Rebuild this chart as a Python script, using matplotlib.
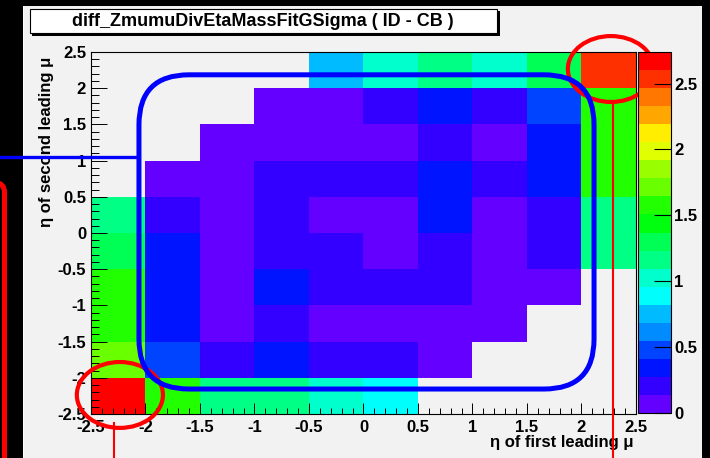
import numpy as np
import colorsys
import matplotlib
matplotlib.use('Agg')
import matplotlib.pyplot as plt
from matplotlib.colors import ListedColormap, BoundaryNorm
from matplotlib.patches import FancyBboxPatch, Ellipse, Rectangle
from matplotlib.transforms import IdentityTransform
from matplotlib.ticker import MultipleLocator, FuncFormatter

plt.rcParams['font.family'] = ['Liberation Sans', 'DejaVu Sans']
plt.rcParams['font.weight'] = 'bold'

# ---------------- data ----------------
title = "diff_ZmumuDivEtaMassFitGSigma ( ID - CB )"
x_label = "\u03b7 of first leading \u03bc"
y_label = "\u03b7 of second leading \u03bc"

# bin edges in eta (same for both axes)
eta_edges = [-2.5, -2.0, -1.5, -1.0, -0.5, 0.0, 0.5, 1.0, 1.5, 2.0, 2.5]
nan = np.nan
# rows: eta of second leading mu from -2.5 (first row) upward; columns: eta of first leading mu
row_m25 = [2.735, 1.58, 1.17, 1.16, 1.02, 0.90, nan, nan, nan, nan]
row_m20 = [1.72, 0.47, 0.21, 0.34, 0.20, 0.22, 0.08, nan, nan, nan]
row_m15 = [1.60, 0.35, 0.07, 0.22, 0.08, 0.09, 0.07, 0.08, nan, nan]
row_m10 = [1.58, 0.36, 0.06, 0.33, 0.21, 0.22, 0.20, 0.09, 0.08, nan]
row_m05 = [1.31, 0.35, 0.08, 0.22, 0.21, 0.07, 0.21, 0.08, 0.22, 1.17]
row_p00 = [1.18, 0.21, 0.07, 0.22, 0.08, 0.07, 0.35, 0.08, 0.21, 1.16]
row_p05 = [nan, 0.08, 0.07, 0.21, 0.22, 0.21, 0.34, 0.22, 0.35, 1.58]
row_p10 = [nan, nan, 0.07, 0.08, 0.07, 0.08, 0.22, 0.10, 0.34, 1.57]
row_p15 = [nan, nan, nan, 0.07, 0.08, 0.21, 0.34, 0.22, 0.47, 1.59]
row_p20 = [nan, nan, nan, nan, 0.76, 1.03, 1.17, 1.04, 1.30, 2.52]
sigma_rows = [row_m25, row_m20, row_m15, row_m10, row_m05,
              row_p00, row_p05, row_p10, row_p15, row_p20]

z_min, z_max = 0.0, 2.74
n_contours = 20
cbar_ticks = [0, 0.5, 1, 1.5, 2, 2.5]

# slide annotations (data coordinates of the histogram)
box_x = [-2.06, 2.115]
box_y = [-2.155, 2.185]
hline_y = 1.05
circle_centers = [(2.27, 2.265), (-2.235, -2.237)]
circle_size = (0.79, 0.91)
vline_x = [2.29, -2.29]
vline_top = [1.81, -2.62]

# ---------------- ROOT "pretty" palette ----------------
pal = []
for i in range(n_contours):
    k = int((i + 0.99) * 50 / n_contours)
    hue = 280.0 - (k + 1) * (280.0 / 50)
    pal.append(colorsys.hls_to_rgb((hue % 360) / 360.0, 0.5, 1.0))
cmap = ListedColormap(pal)
levels = np.linspace(z_min, z_max, n_contours + 1)
norm = BoundaryNorm(levels, n_contours)

W, H = 710, 458
fig = plt.figure(figsize=(W / 100, H / 100), dpi=100, facecolor='black')
PADC = '#f2f2f2'

# canvas pad
fig.add_artist(Rectangle((24 / W, 0), (702 - 24) / W, (H - 6) / H,
                         transform=fig.transFigure, facecolor=PADC,
                         edgecolor='none', zorder=-5))
fig.add_artist(Rectangle((23 / W, 0), 1.5 / W, (H - 6) / H,
                         transform=fig.transFigure, facecolor='white',
                         edgecolor='none', zorder=-4))

ax = fig.add_axes([91 / W, 1 - 414 / H, 545 / W, 362 / H])
ax.set_facecolor(PADC)
Z = np.ma.masked_invalid(np.array(sigma_rows))
mesh = ax.pcolormesh(eta_edges, eta_edges, Z, cmap=cmap, norm=norm)
ax.set_xlim(eta_edges[0], eta_edges[-1])
ax.set_ylim(eta_edges[0], eta_edges[-1])

fmt = FuncFormatter(lambda v, p: f"{round(v, 3):g}")
for a in (ax.xaxis, ax.yaxis):
    a.set_major_locator(MultipleLocator(0.5))
    a.set_minor_locator(MultipleLocator(0.1))
    a.set_major_formatter(fmt)
ax.tick_params(which='both', direction='in', color='black', width=0.7,
               labelsize=12)
ax.tick_params(axis='x', which='major', length=8, pad=4)
ax.tick_params(axis='x', which='minor', length=4)
ax.tick_params(axis='y', which='major', length=11.5, pad=3.6)
ax.tick_params(axis='y', which='minor', length=5.8)
for s in ax.spines.values():
    s.set_linewidth(0.8)
    s.set_color('black')

ax.set_xlabel(x_label, fontsize=12, fontweight='bold')
ax.xaxis.label.set_ha('right')
ax.xaxis.label.set_va('center')
ax.xaxis.set_label_coords(1.0 - 2 / 545, -29 / 362)
ax.set_ylabel(y_label, fontsize=12, fontweight='bold')
ax.yaxis.label.set_rotation_mode('anchor')
ax.yaxis.label.set_ha('right')
ax.yaxis.label.set_va('center')
ax.yaxis.set_label_coords(-45 / 545, (414 - 57) / 362)

# palette axis
cax = fig.add_axes([638 / W, 1 - 413 / H, 33 / W, 361 / H])
cb = fig.colorbar(mesh, cax=cax, ticks=cbar_ticks)
cb.ax.yaxis.set_major_formatter(fmt)
cb.ax.tick_params(direction='in', length=12, width=0.8, pad=2.5,
                  labelsize=12, color='black')
cb.ax.minorticks_off()
cb.outline.set_linewidth(0.8)

# title box
tx0, tx1, ty0, ty1 = 29.5, 497, 9, 33
fig.add_artist(Rectangle(((tx0 + 2.5) / W, 1 - (ty1 + 2.5) / H), (tx1 - tx0) / W,
                         (ty1 - ty0) / H, transform=fig.transFigure,
                         facecolor='black', edgecolor='none', zorder=3))
fig.add_artist(Rectangle((tx0 / W, 1 - ty1 / H), (tx1 - tx0) / W,
                         (ty1 - ty0) / H, transform=fig.transFigure,
                         facecolor='white', edgecolor='black', lw=0.8, zorder=4))
fig.text((tx0 + tx1) / 2 / W, 1 - (ty0 + ty1) / 2 / H, title, ha='center',
         va='center', fontsize=13, fontweight='bold', zorder=5)

# ---------------- slide annotations ----------------
BLUE = '#0000ff'
RED = '#ff0000'
p0 = ax.transData.transform((box_x[0], box_y[0]))
p1 = ax.transData.transform((box_x[1], box_y[1]))
fig.add_artist(FancyBboxPatch((p0[0], p0[1]), p1[0] - p0[0], p1[1] - p0[1],
                              boxstyle='round,pad=0,rounding_size=50',
                              transform=IdentityTransform(), fill=False,
                              edgecolor=BLUE, lw=3.6, zorder=6))
ax.plot([-3.5, box_x[0]], [hline_y, hline_y], color=BLUE, lw=2.4,
        clip_on=False, solid_capstyle='butt', zorder=6)
for (cx, cy) in circle_centers:
    ax.add_patch(Ellipse((cx, cy), circle_size[0], circle_size[1], fill=False,
                         edgecolor=RED, lw=3.0, clip_on=False, zorder=7))
for xv, yt in zip(vline_x, vline_top):
    ax.plot([xv, xv], [yt, -3.5], color=RED, lw=1.5, clip_on=False, zorder=7)
# left red frame (partially visible)
fig.add_artist(FancyBboxPatch((-60, -20), 64.5, H - 182.5 + 20,
                              boxstyle='round,pad=0,rounding_size=10',
                              transform=IdentityTransform(), fill=False,
                              edgecolor=RED, lw=3.6, zorder=6))

fig.savefig('out.png', dpi=100, facecolor='black')
